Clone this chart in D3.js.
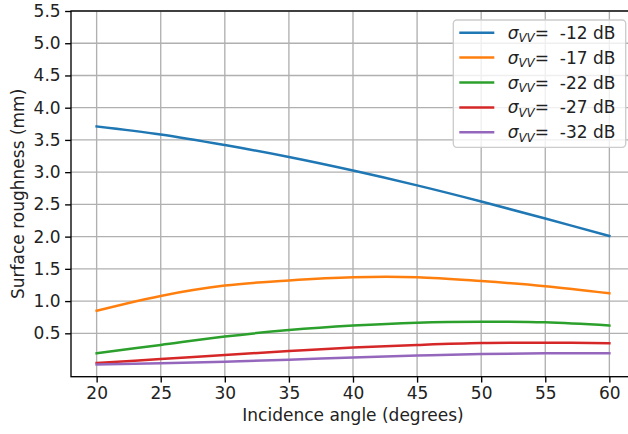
<!DOCTYPE html>
<html>
<head>
<meta charset="utf-8">
<script src="https://cdn.jsdelivr.net/npm/d3@7"></script>
<style>
  html, body { margin: 0; padding: 0; background: #fff; }
  svg { display: block; font-family: "DejaVu Sans", sans-serif; }
</style>
</head>
<body>
<div id="chart"></div>
<script>
const angles = [20, 25, 30, 35, 40, 45, 50, 55, 60];
const sigma12 = [3.71, 3.585, 3.42, 3.235, 3.025, 2.795, 2.545, 2.28, 2.01];
const sigma17 = [0.85, 1.08, 1.24, 1.32, 1.37, 1.37, 1.31, 1.23, 1.12];
const sigma22 = [0.19, 0.32, 0.45, 0.55, 0.62, 0.665, 0.68, 0.67, 0.62];
const sigma27 = [0.04, 0.10, 0.165, 0.225, 0.28, 0.32, 0.35, 0.355, 0.345];
const sigma32 = [0.015, 0.035, 0.06, 0.09, 0.125, 0.155, 0.18, 0.19, 0.19];
const seriesLabels = ["-12 dB", "-17 dB", "-22 dB", "-27 dB", "-32 dB"];
const xTicks = [20, 25, 30, 35, 40, 45, 50, 55, 60];
const yTicks = [0.5, 1.0, 1.5, 2.0, 2.5, 3.0, 3.5, 4.0, 4.5, 5.0, 5.5];
const colors = ["#1f77b4", "#ff7f0e", "#2ca02c", "#d62728", "#9467bd"];

const seriesValues = [sigma12, sigma17, sigma22, sigma27, sigma32];

const W = 628, H = 434;
const mLeft = 71, mTop = 11, mRight = 635, mBottom = 376.7;
const fs = 17;

const svg = d3.select("#chart").append("svg").attr("width", W).attr("height", H);

const x = d3.scaleLinear().domain([18, 62]).range([mLeft, mRight]);
const y = d3.scaleLinear().domain([-0.173, 5.5]).range([mBottom, mTop]);

svg.append("defs").append("clipPath").attr("id", "clip")
  .append("rect").attr("x", mLeft).attr("y", mTop).attr("width", mRight - mLeft).attr("height", mBottom - mTop);

// grid
const grid = svg.append("g");
grid.selectAll("line.gx").data(xTicks).enter().append("line")
  .attr("x1", d => x(d)).attr("x2", d => x(d)).attr("y1", mTop).attr("y2", mBottom)
  .attr("stroke", "#b0b0b0").attr("stroke-width", 1.35);
grid.selectAll("line.gy").data(yTicks).enter().append("line")
  .attr("y1", d => y(d)).attr("y2", d => y(d)).attr("x1", mLeft).attr("x2", mRight)
  .attr("stroke", "#b0b0b0").attr("stroke-width", 1.35);

// lines
const line = d3.line().x((d, i) => x(angles[i])).y(d => y(d)).curve(d3.curveCatmullRom.alpha(0.5));
const plot = svg.append("g").attr("clip-path", "url(#clip)");
seriesValues.forEach((vals, k) => {
  plot.append("path").datum(vals).attr("d", line)
    .attr("fill", "none").attr("stroke", colors[k]).attr("stroke-width", 2.5)
    .attr("stroke-linecap", "square");
});

// axes
const xAxis = d3.axisBottom(x).tickValues(xTicks).tickSize(5.9).tickPadding(4.2).tickFormat(d3.format("d"));
const yAxis = d3.axisLeft(y).tickValues(yTicks).tickSize(5.9).tickPadding(4.5).tickFormat(d3.format(".1f"));
const gx = svg.append("g").attr("transform", `translate(0,${mBottom})`).call(xAxis);
const gy = svg.append("g").attr("transform", `translate(${mLeft},0)`).call(yAxis);
[gx, gy].forEach(g => {
  g.select(".domain").remove();
  g.selectAll(".tick line").attr("stroke", "#000").attr("stroke-width", 1.35);
  g.selectAll(".tick text").attr("font-size", fs).attr("fill", "#222").attr("font-family", "DejaVu Sans");
});

// spines
svg.append("rect").attr("x", mLeft).attr("y", mTop).attr("width", mRight - mLeft).attr("height", mBottom - mTop)
  .attr("fill", "none").attr("stroke", "#000").attr("stroke-width", 1.35);

// axis labels
svg.append("text").attr("x", (mLeft + mRight) / 2).attr("y", 421).attr("text-anchor", "middle")
  .attr("font-size", fs).attr("fill", "#222").text("Incidence angle (degrees)");
svg.append("text").attr("transform", `translate(24,${(mTop + mBottom) / 2}) rotate(-90)`)
  .attr("text-anchor", "middle").attr("font-size", fs).attr("fill", "#222").text("Surface roughness (mm)");

// legend
const lg = svg.append("g");
lg.append("rect").attr("x", 453.3).attr("y", 20).attr("width", 172.4).attr("height", 127.3)
  .attr("rx", 3.5).attr("fill", "#fff").attr("fill-opacity", 0.8)
  .attr("stroke", "#cccccc").attr("stroke-width", 1.35);
seriesLabels.forEach((lab, k) => {
  const cy = 32.7 + k * 24.9;
  lg.append("line").attr("x1", 459.3).attr("x2", 494.3).attr("y1", cy).attr("y2", cy)
    .attr("stroke", colors[k]).attr("stroke-width", 2.5);
  const t = lg.append("text").attr("x", 507.7).attr("y", cy + 6).attr("font-size", fs).attr("fill", "#222")
    .style("white-space", "pre");
  t.append("tspan").attr("font-style", "italic").text("σ");
  t.append("tspan").attr("font-style", "italic").attr("font-size", fs * 0.7).attr("dy", 3.5).text("VV");
  t.append("tspan").attr("dy", -3.5).text("=  " + lab);
});
</script>
</body>
</html>
